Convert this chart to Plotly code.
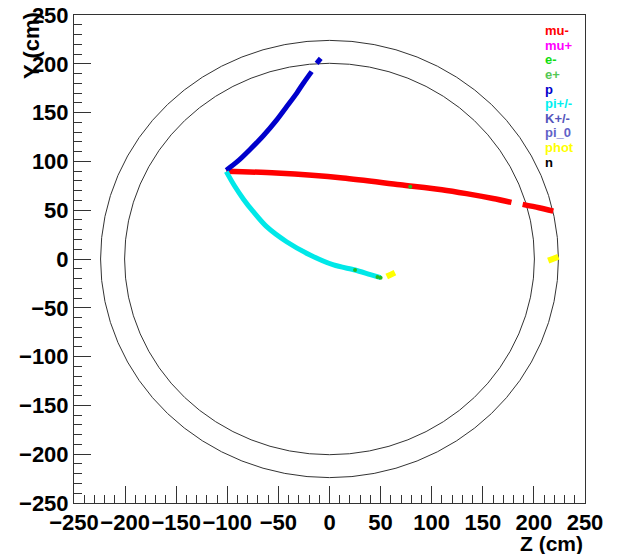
import plotly.graph_objects as go

# ---- data ----
mu_minus_z1 = [-101, -52, 13, 69, 110, 134, 160, 178]
mu_minus_y1 = [90, 88, 83, 76, 71, 67, 62, 58]
mu_minus_z2 = [189, 205, 219]
mu_minus_y2 = [56, 52.5, 49]

p_z1 = [-101, -90, -78, -65, -52, -42, -32, -25, -17.5]
p_y1 = [91, 100, 112, 126, 142, 156, 170, 181, 192]
p_z2 = [-12.6, -8.6]
p_y2 = [200.5, 205.6]

pi_z = [-101, -93, -84, -75, -61.5, -42, -19, 4, 25, 40, 50]
pi_y = [89.5, 75, 61, 49, 33.1, 17.7, 4.1, -6.1, -11.3, -16, -19]

e_minus_z = [79, 25, 47, 50]
e_minus_y = [74, -11.3, -18.5, -19.2]

phot_z1 = [56, 60, 64]
phot_y1 = [-18, -16, -14]
phot_z2 = [214, 219, 224]
phot_y2 = [-1.7, 0.3, 2.4]

circle_radii = [200.5, 224]

legend_labels = ["mu-", "mu+", "e-", "e+", "p", "pi+/-", "K+/-", "pi_0", "phot", "n"]
legend_colors = ["#ff0000", "#ff00ff", "#11dd11", "#55c855", "#0000cc",
                 "#00f0f0", "#5555bb", "#6262c8", "#ffff00", "#000000"]

x_ticks = [-250, -200, -150, -100, -50, 0, 50, 100, 150, 200, 250]
y_ticks = [-250, -200, -150, -100, -50, 0, 50, 100, 150, 200, 250]

FONT = "Liberation Sans, Arial, Helvetica, sans-serif"

L, R, T, B = 74, 38, 15, 51
W, H = 623, 554
pw, ph = W - L - R, H - T - B

def px(x):
    return (x - L) / pw

def py(y):
    return 1 - (y - T) / ph

fig = go.Figure()

def track(z, y, color, width=5):
    fig.add_trace(go.Scatter(x=z, y=y, mode="lines",
                             line=dict(color=color, width=width, shape="spline", smoothing=0.8),
                             hoverinfo="skip", showlegend=False))

track(mu_minus_z1, mu_minus_y1, "#ff0000", 5.5)
track(mu_minus_z2, mu_minus_y2, "#ff0000", 5.5)
track(p_z1, p_y1, "#0000cc", 5)
track(p_z2, p_y2, "#0000cc", 5)
track(pi_z, pi_y, "#00e8e8", 5)
track(phot_z1, phot_y1, "#ffff00", 6)
track(phot_z2, phot_y2, "#ffff00", 6)
fig.add_trace(go.Scatter(x=e_minus_z, y=e_minus_y, mode="markers",
                         marker=dict(color="#22bb22", size=4),
                         hoverinfo="skip", showlegend=False))

for r in circle_radii:
    fig.add_shape(type="circle", xref="x", yref="y", x0=-r, x1=r, y0=-r, y1=r,
                  line=dict(color="#333333", width=1), layer="below")

# legend as coloured text
for i, (lab, col) in enumerate(zip(legend_labels, legend_colors)):
    fig.add_annotation(x=px(543), y=py(30.7 + i * 14.6), xref="paper", yref="paper",
                       text=lab, showarrow=False, xanchor="left", yanchor="middle",
                       font=dict(family=FONT, size=13, color=col, weight="bold"))

axis_common = dict(
    range=[-250, 250], showgrid=False, zeroline=False, automargin=False,
    showline=True, linecolor="#333333", linewidth=1, mirror=True,
    ticks="inside", ticklen=17, tickwidth=1, tickcolor="#333333",
    minor=dict(ticks="inside", ticklen=8, dtick=10, tickcolor="#333333", tickwidth=1),
    tickfont=dict(family=FONT, size=22, color="#000000", weight="bold"),
    ticklabeloverflow="allow",
    fixedrange=True,
)
fig.update_xaxes(**axis_common, tickvals=x_ticks, tickangle=0)
fig.update_yaxes(**axis_common, tickvals=y_ticks)

fig.update_layout(
    width=W, height=H,
    margin=dict(l=L, r=R, t=T, b=B),
    paper_bgcolor="white", plot_bgcolor="white",
    showlegend=False,
)

fig.add_annotation(x=px(32), y=py(46), xref="paper", yref="paper",
                   text="Y (cm)", textangle=-90, showarrow=False,
                   xanchor="center", yanchor="middle",
                   font=dict(family=FONT, size=22, color="#000", weight="bold"))
fig.add_annotation(x=1.0, y=py(543), xref="paper", yref="paper",
                   text="Z (cm)", showarrow=False, xanchor="right", yanchor="middle",
                   font=dict(family=FONT, size=21, color="#000", weight="bold"))

# remove the default 8px page margin so the figure fills the window exactly
fig.write_html("out.html",
               config={"displayModeBar": False, "staticPlot": True},
               post_script="document.body.style.margin='0';document.body.style.overflow='hidden';")
